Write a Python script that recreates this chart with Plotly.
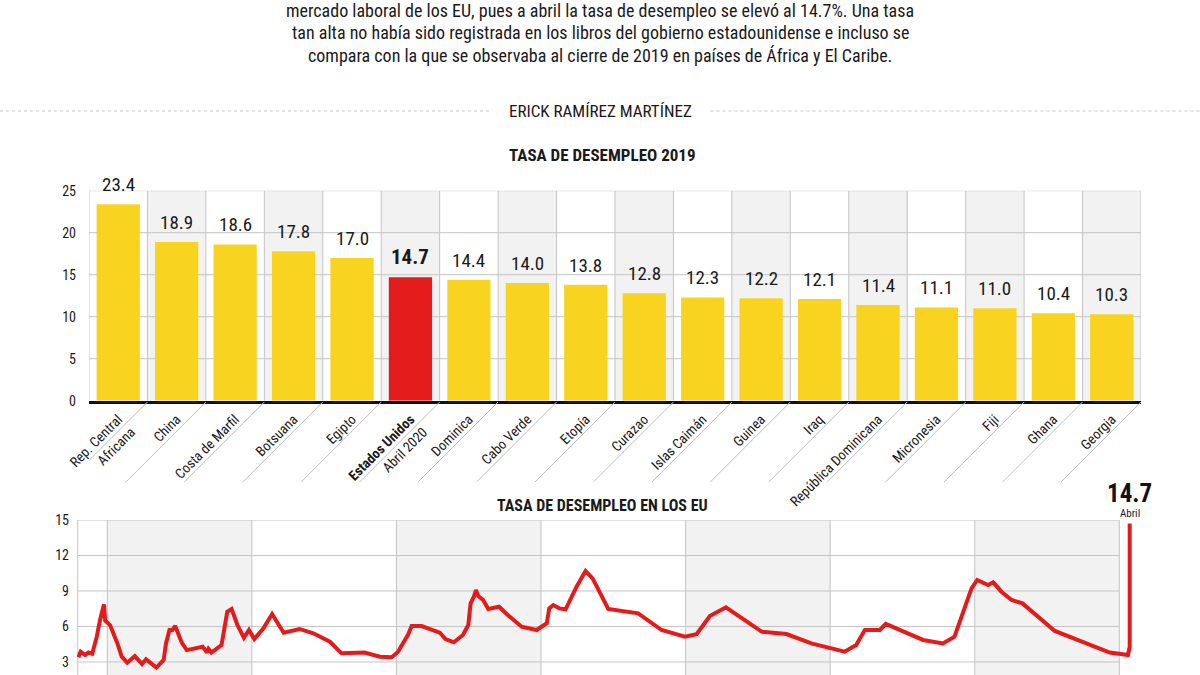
import plotly.graph_objects as go

# ---------------- data ----------------
countries = ["Rep. Central<br>Africana", "China", "Costa de Marfil", "Botsuana", "Egipto",
             "<b>Estados Unidos</b><br>Abril 2020", "Dominica", "Cabo Verde", "Etopía", "Curazao",
             "Islas Caimán", "Guinea", "Iraq", "República Dominicana", "Micronesia", "Fiji",
             "Ghana", "Georgia"]
rates_2019 = [23.4, 18.9, 18.6, 17.8, 17.0, 14.7, 14.4, 14.0, 13.8, 12.8,
              12.3, 12.2, 12.1, 11.4, 11.1, 11.0, 10.4, 10.3]
highlight = "<b>Estados Unidos</b><br>Abril 2020"

us_years = [1948.0, 1948.16, 1948.46, 1948.7, 1948.96, 1949.27, 1949.5, 1949.77, 1949.85,
            1950.19, 1950.7, 1951.0, 1951.38, 1951.9, 1952.4, 1952.68, 1953.4, 1953.9,
            1954.06, 1954.3, 1954.5, 1954.7, 1955.15, 1955.5, 1956.6, 1956.9, 1957.0,
            1957.2, 1957.9, 1958.3, 1958.6, 1959.0, 1959.45, 1959.8, 1960.17, 1960.8,
            1961.4, 1962.2, 1963.3, 1964.25, 1965.4, 1966.2, 1967.8, 1968.86, 1969.67,
            1970.1, 1970.8, 1970.95, 1971.05, 1971.74, 1973.0, 1973.4, 1973.97, 1974.6,
            1974.97, 1975.13, 1975.36, 1975.5, 1975.66, 1976.0, 1976.35, 1977.1, 1977.7,
            1978.66, 1979.7, 1980.4, 1980.57, 1980.85, 1981.26, 1981.7, 1982.46, 1983.08,
            1983.57, 1984.65, 1985.57, 1986.72, 1988.34, 1989.95, 1990.76, 1991.68,
            1992.79, 1995.26, 1996.98, 1997.9, 1998.7, 2001.0, 2001.8, 2002.4, 2003.44,
            2003.85, 2006.43, 2007.8, 2008.6, 2009.78, 2010.17, 2010.93, 2011.28, 2011.85,
            2012.55, 2013.3, 2015.54, 2019.34, 2020.6, 2020.72, 2020.72]
us_rates = [3.4, 3.87, 3.59, 3.8, 3.7, 5.14, 6.55, 7.87, 6.5,
            6.12, 4.57, 3.45, 2.94, 3.5, 2.83, 3.22, 2.52, 3.17,
            4.57, 5.7, 5.7, 6.04, 4.63, 4.0, 4.29, 3.8, 4.1,
            3.8, 4.43, 7.25, 7.48, 6.12, 5.05, 5.7, 4.94, 5.84,
            7.05, 5.47, 5.79, 5.42, 4.71, 3.73, 3.8, 3.45, 3.4,
            3.85, 5.3, 5.7, 6.04, 6.04, 5.47, 4.94, 4.66, 5.28,
            6.12, 7.95, 8.52, 9.08, 8.58, 8.24, 7.48, 7.67, 6.97,
            5.98, 5.7, 6.27, 7.53, 7.81, 7.53, 7.45, 9.36, 10.69,
            10.07, 7.48, 7.34, 7.11, 5.7, 5.14, 5.34, 6.88,
            7.62, 5.56, 5.36, 4.92, 4.57, 3.87, 4.43, 5.7, 5.7,
            6.21, 4.86, 4.57, 5.14, 9.22, 9.93, 9.5, 9.73, 8.94,
            8.24, 7.95, 5.62, 3.8, 3.59, 4.29, 14.7]
bar_ticks = [0, 5, 10, 15, 20, 25]
line_ticks = [3, 6, 9, 12, 15]
decades = [1950, 1960, 1970, 1980, 1990, 2000, 2010, 2020]
intro_lines = [
    "mercado laboral de los EU, pues a abril la tasa de desempleo se elevó al 14.7%. Una tasa",
    "tan alta no había sido registrada en los libros del gobierno estadounidense e incluso se",
    "compara con la que se observaba al cierre de 2019 en países de África y El Caribe.",
]

# ---------------- style ----------------
W, H = 1200, 675
FONT = "Liberation Sans Narrow, Roboto Condensed, Roboto, sans-serif"
YELLOW = "#F8D420"
RED = "#E31B1B"
GRID = "#C4C4C4"
SHADE = "#F2F2F2"
TXT = "#1a1a1a"

bx0, bx1 = 89, 1141          # bar plot px
by0, by1 = 190.7, 400.7
lx0, lx1 = 77, 1141          # line plot px
ly_top = 520

def py(p):
    return 1 - p / H

colors = [RED if c == highlight else YELLOW for c in countries]

fig = go.Figure()
fig.add_trace(go.Bar(x=countries, y=rates_2019, marker=dict(color=colors, line=dict(width=0)),
                     hoverinfo="x+y", xaxis="x", yaxis="y", showlegend=False))
fig.add_trace(go.Scatter(x=us_years, y=us_rates, mode="lines",
                         line=dict(color=RED, width=4, shape="linear"),
                         xaxis="x2", yaxis="y2", showlegend=False))

shapes = []
n = len(countries)
for i in range(n):
    if i % 2 == 1:
        shapes.append(dict(type="rect", xref="x", yref="y", x0=i - 0.5, x1=i + 0.5, y0=0, y1=25,
                           fillcolor=SHADE, line=dict(width=0), layer="below"))
for i in range(n + 1):
    shapes.append(dict(type="line", xref="x", yref="y", x0=i - 0.5, x1=i - 0.5, y0=0, y1=25,
                       line=dict(color=GRID, width=1), layer="below"))
for t in bar_ticks[1:]:
    shapes.append(dict(type="line", xref="x", yref="y", x0=-0.5, x1=n - 0.5, y0=t, y1=t,
                       line=dict(color=GRID, width=1), layer="below"))
cat_px = (bx1 - bx0) / n
for i in range(1, n + 1):
    b = i - 0.5
    shapes.append(dict(type="line", xref="x", yref="paper", x0=b, x1=b - 80 / cat_px,
                       y0=py(402), y1=py(482), line=dict(color="#BDBDBD", width=1)))

for k in range(0, len(decades) - 1, 2):
    shapes.append(dict(type="rect", xref="x2", yref="y2", x0=decades[k], x1=decades[k + 1],
                       y0=1.0, y1=15, fillcolor=SHADE, line=dict(width=0), layer="below"))
for d in [1947.95] + decades:
    shapes.append(dict(type="line", xref="x2", yref="y2", x0=d, x1=d, y0=1.0, y1=15,
                       line=dict(color=GRID, width=1), layer="below"))
for t in line_ticks:
    shapes.append(dict(type="line", xref="x2", yref="y2", x0=1947.95, x1=2020, y0=t, y1=t,
                       line=dict(color=GRID, width=1), layer="below"))

shapes.append(dict(type="line", xref="paper", yref="paper", x0=0, x1=0.408, y0=py(111), y1=py(111),
                   line=dict(color="#C8C8C8", width=1, dash="dot")))
shapes.append(dict(type="line", xref="paper", yref="paper", x0=0.592, x1=1, y0=py(111), y1=py(111),
                   line=dict(color="#C8C8C8", width=1, dash="dot")))

annotations = []
for k, line in enumerate(intro_lines):
    annotations.append(dict(text=line, xref="paper", yref="paper", x=0.5, y=py(11 + 22 * k),
                            xanchor="center", yanchor="middle", showarrow=False,
                            font=dict(family=FONT, size=18, color=TXT)))
annotations.append(dict(text="ERICK RAMÍREZ MARTÍNEZ", xref="paper", yref="paper", x=0.5, y=py(111),
                        xanchor="center", yanchor="middle",
                        showarrow=False, font=dict(family=FONT, size=17, color=TXT)))
annotations.append(dict(text="<b>TASA DE DESEMPLEO 2019</b>", xref="paper", yref="paper",
                        x=602 / W, y=py(155), xanchor="center", yanchor="middle", showarrow=False,
                        font=dict(family=FONT, size=17, color=TXT)))
annotations.append(dict(text="<b>TASA DE DESEMPLEO EN LOS EU</b>", xref="paper", yref="paper",
                        x=603 / W, y=py(505), xanchor="center", yanchor="middle", showarrow=False,
                        font=dict(family=FONT, size=16, color=TXT)))
for c, v in zip(countries, rates_2019):
    label = f"<b>{v:.1f}</b>" if c == highlight else f"{v:.1f}"
    annotations.append(dict(text=label, x=c, y=v, xref="x", yref="y", yanchor="bottom",
                            showarrow=False, yshift=6,
                            font=dict(family=FONT, size=21 if c == highlight else 19, color=TXT)))
annotations.append(dict(text="Abril", x=us_years[-1], y=15, xref="x2", yref="y2", yanchor="bottom",
                        showarrow=False, yshift=-2, font=dict(family=FONT, size=11, color=TXT)))
annotations.append(dict(text=f"<b>{us_rates[-1]:.1f}</b>", x=us_years[-1], y=15, xref="x2", yref="y2",
                        yanchor="bottom", showarrow=False, yshift=10,
                        font=dict(family=FONT, size=25, color="#111111")))

fig.update_layout(
    template="none",
    width=W, height=H, margin=dict(l=0, r=0, t=0, b=0, autoexpand=False),
    paper_bgcolor="white", plot_bgcolor="rgba(0,0,0,0)",
    font=dict(family=FONT, color=TXT),
    bargap=0.26,
    xaxis=dict(domain=[bx0 / W, bx1 / W], anchor="y", type="category", categoryarray=countries,
               range=[-0.5, n - 0.5], showgrid=False, zeroline=False, showline=True, automargin=False,
               linecolor="#111111", linewidth=3, tickangle=-45, ticks="", ticklabelstandoff=2,
               tickfont=dict(family=FONT, size=14, color=TXT)),
    yaxis=dict(domain=[py(by1), py(by0)], anchor="x", range=[0, 25], tickvals=bar_ticks,
               showgrid=False, zeroline=False, showline=False, ticks="", automargin=False,
               ticklabelstandoff=12,
               tickfont=dict(family=FONT, size=14, color=TXT)),
    xaxis2=dict(domain=[lx0 / W, lx1 / W], anchor="y2", automargin=False,
                range=[1950 - (107.3 - lx0) / 14.457, 1950 + (lx1 - 107.3) / 14.457],
                showgrid=False, zeroline=False, showticklabels=False, showline=False, ticks=""),
    yaxis2=dict(domain=[0, py(ly_top)], anchor="x2", range=[15 - (H - ly_top) / 11.83, 15],
                tickvals=line_ticks, showgrid=False, zeroline=False, ticks="", automargin=False,
                ticklabelstandoff=7,
                tickfont=dict(family=FONT, size=14, color=TXT)),
    shapes=shapes, annotations=annotations,
)

fig.write_html("out.html")
